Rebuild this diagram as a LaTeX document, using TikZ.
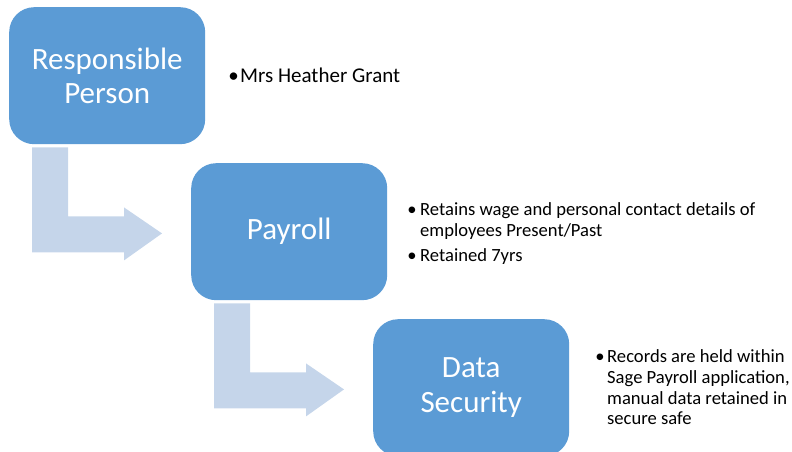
\documentclass[tikz,border=0pt]{standalone}
\usepackage{fontspec}
\setmainfont{Carlito}
\usetikzlibrary{calc}

\definecolor{boxblue}{HTML}{5B9BD5}
\definecolor{arrowblue}{HTML}{C5D5EA}

\tikzset{
  stage/.style={rectangle, rounded corners=25pt, fill=boxblue, draw=none,
    minimum width=196pt, minimum height=137pt, inner sep=0pt,
    text=white, align=center, font=\fontsize{31}{34.5}\selectfont},
  bentarrow/.style={fill=arrowblue, draw=none},
  bigline/.style={anchor=base west, inner sep=0pt, text=black,
    font=\fontsize{21}{25}\selectfont},
  midline/.style={anchor=base west, inner sep=0pt, text=black,
    font=\fontsize{18.6}{21}\selectfont},
  dotmark/.style={anchor=base, inner sep=0pt, text=black}
}

% L-shaped arrow hanging below one stage and pointing at the next
\newcommand{\lbend}[1]{%
  \fill[bentarrow] ($(#1.south west)+(23,3)$) -- ++(36,0) -- ++(0,69)
    -- ++(56,0) -- ++(0,-9) -- ++(38,26) -- ++(-38,27) -- ++(0,-8)
    -- ++(-92,0) -- cycle;}

\begin{document}
\begin{tikzpicture}[x=1pt, y=-1pt]
  \useasboundingbox (0,0) rectangle (792,452);
  \clip (0,0) rectangle (792,452);

  % stages
  \node[stage, anchor=north west] (resp) at (9,7) {Responsible\\Person};
  \node[stage, anchor=north west] (pay) at (191,163) {Payroll};
  \node[stage, anchor=north west] (sec) at (373,319) {Data\\Security};

  % arrows between stages
  \lbend{resp}
  \lbend{pay}

  % notes for the responsible person
  \node[dotmark, font=\fontsize{21}{25}\selectfont] (b1) at (233.5,82) {•};
  \node[bigline] (t1) at (240,82) {Mrs Heather Grant};

  % notes for payroll
  \node[dotmark, font=\fontsize{18.6}{21}\selectfont] (b2) at (412,215) {•};
  \node[midline] (t2a) at (420,215) {Retains wage and personal contact details of};
  \node[midline] (t2b) at (420,236) {employees Present/Past};
  \node[dotmark, font=\fontsize{18.6}{21}\selectfont] (b3) at (412,261) {•};
  \node[midline] (t3) at (420,261) {Retained 7yrs};

  % notes for data security
  \node[dotmark, font=\fontsize{18.6}{21}\selectfont] (b4) at (600,362) {•};
  \node[midline] (t4a) at (607,362) {Records are held within};
  \node[midline] (t4b) at (607,383) {Sage Payroll application,};
  \node[midline] (t4c) at (607,404) {manual data retained in};
  \node[midline] (t4d) at (607,424) {secure safe};
\end{tikzpicture}
\end{document}
